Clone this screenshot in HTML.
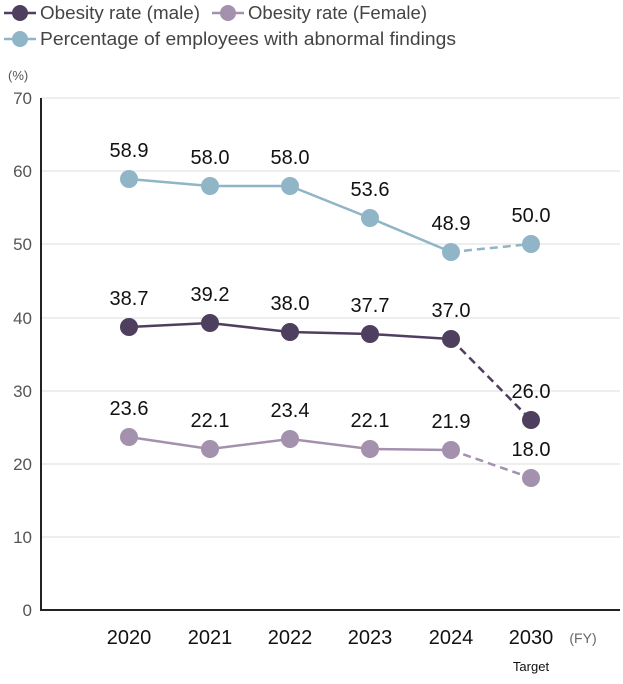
<!DOCTYPE html>
<html><head><style>body{margin:0;background:#fff}svg{display:block}</style></head><body>
<svg width="623" height="684" xmlns="http://www.w3.org/2000/svg" font-family="Liberation Sans, sans-serif">
<g stroke="#ddd" stroke-width="1">
<line x1="41" x2="620" y1="98" y2="98"/><line x1="41" x2="620" y1="171" y2="171"/><line x1="41" x2="620" y1="244" y2="244"/><line x1="41" x2="620" y1="318" y2="318"/><line x1="41" x2="620" y1="391" y2="391"/><line x1="41" x2="620" y1="464" y2="464"/><line x1="41" x2="620" y1="537" y2="537"/>
</g>
<line x1="41" y1="98" x2="41" y2="611" stroke="#222" stroke-width="2"/>
<line x1="41" y1="610" x2="620" y2="610" stroke="#222" stroke-width="2"/>
<g font-size="17" fill="#555" text-anchor="end">
<text x="32" y="104">70</text><text x="32" y="177">60</text><text x="32" y="250">50</text><text x="32" y="324">40</text><text x="32" y="397">30</text><text x="32" y="470">20</text><text x="32" y="543">10</text><text x="32" y="616">0</text>
</g>
<text x="8" y="80" font-size="13" fill="#555">(%)</text>
<g font-size="20" fill="#111" text-anchor="middle">
<text x="129" y="644">2020</text><text x="210" y="644">2021</text><text x="290" y="644">2022</text><text x="370" y="644">2023</text><text x="451" y="644">2024</text><text x="531" y="644">2030</text>
</g>
<text x="531" y="671" font-size="13" fill="#111" text-anchor="middle">Target</text>
<text x="583" y="643" font-size="14" fill="#666" text-anchor="middle">(FY)</text>
<polyline points="129,179 210,186 290,186 370,218 451,252" fill="none" stroke="#8fb5c6" stroke-width="2.5"/>
<line x1="451" y1="252" x2="531" y2="244" stroke="#8fb5c6" stroke-width="2.5" stroke-dasharray="8,5"/>
<g fill="#8fb5c6"><circle cx="129" cy="179" r="9"/><circle cx="210" cy="186" r="9"/><circle cx="290" cy="186" r="9"/><circle cx="370" cy="218" r="9"/><circle cx="451" cy="252" r="9"/><circle cx="531" cy="244" r="9"/></g>
<polyline points="129,327 210,323 290,332 370,334 451,339" fill="none" stroke="#4e3f5f" stroke-width="2.5"/>
<line x1="451" y1="339" x2="531" y2="420" stroke="#4e3f5f" stroke-width="2.5" stroke-dasharray="8,5"/>
<g fill="#4e3f5f"><circle cx="129" cy="327" r="9"/><circle cx="210" cy="323" r="9"/><circle cx="290" cy="332" r="9"/><circle cx="370" cy="334" r="9"/><circle cx="451" cy="339" r="9"/><circle cx="531" cy="420" r="9"/></g>
<polyline points="129,437 210,449 290,439 370,449 451,450" fill="none" stroke="#a491ad" stroke-width="2.5"/>
<line x1="451" y1="450" x2="531" y2="478" stroke="#a491ad" stroke-width="2.5" stroke-dasharray="8,5"/>
<g fill="#a491ad"><circle cx="129" cy="437" r="9"/><circle cx="210" cy="449" r="9"/><circle cx="290" cy="439" r="9"/><circle cx="370" cy="449" r="9"/><circle cx="451" cy="450" r="9"/><circle cx="531" cy="478" r="9"/></g>
<g font-size="20" fill="#111" text-anchor="middle">
<text x="129" y="157">58.9</text><text x="210" y="164">58.0</text><text x="290" y="164">58.0</text><text x="370" y="196">53.6</text><text x="451" y="230">48.9</text><text x="531" y="222">50.0</text>
<text x="129" y="305">38.7</text><text x="210" y="301">39.2</text><text x="290" y="310">38.0</text><text x="370" y="312">37.7</text><text x="451" y="317">37.0</text><text x="531" y="398">26.0</text>
<text x="129" y="415">23.6</text><text x="210" y="427">22.1</text><text x="290" y="417">23.4</text><text x="370" y="427">22.1</text><text x="451" y="428">21.9</text><text x="531" y="456">18.0</text>
</g>
<g stroke-width="2.5">
<line x1="4" y1="13" x2="36" y2="13" stroke="#4e3f5f"/><circle cx="20" cy="13" r="8" fill="#4e3f5f"/>
<line x1="212" y1="13" x2="244" y2="13" stroke="#a491ad"/><circle cx="228" cy="13" r="8" fill="#a491ad"/>
<line x1="4" y1="39" x2="36" y2="39" stroke="#8fb5c6"/><circle cx="20" cy="39" r="8" fill="#8fb5c6"/>
</g>
<g font-size="18" fill="#444">
<text x="40" y="19" textLength="160" lengthAdjust="spacingAndGlyphs">Obesity rate (male)</text>
<text x="248" y="19" textLength="179" lengthAdjust="spacingAndGlyphs">Obesity rate (Female)</text>
<text x="40" y="45" textLength="416" lengthAdjust="spacingAndGlyphs">Percentage of employees with abnormal findings</text>
</g>
</svg>
</body></html>
